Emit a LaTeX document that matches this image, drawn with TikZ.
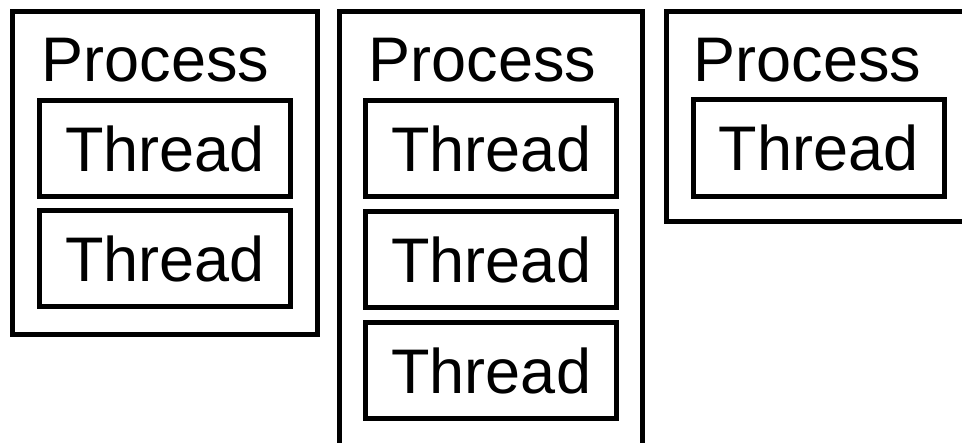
\documentclass[tikz,border=0pt]{standalone}
\usepackage{fontspec}
\setmainfont{Liberation Sans}
\begin{document}
\begin{tikzpicture}[x=1pt,y=-1pt,
  frame/.style={line width=5pt,draw=black},
  thread/.style={frame,minimum width=251pt,minimum height=96.5pt,inner sep=0pt,
    font=\fontsize{63}{70}\selectfont},
  plabel/.style={anchor=base west,inner sep=0pt,font=\fontsize{63}{70}\selectfont}]
\useasboundingbox (0,0) rectangle (962,443);
\clip (0,0) rectangle (962,443);
% process containers (the second and third run past the picture edge)
\draw[frame] (12.5,11.5) rectangle (317.5,334.5);
\draw[frame] (339.5,11.5) rectangle (642.5,460);
\draw[frame] (666.5,11.5) rectangle (980,221.5);
% process labels
\node[plabel] (p1) at (41.5,81.5) {Process};
\node[plabel] (p2) at (368.5,81.5) {Process};
\node[plabel] (p3) at (693.5,81.5) {Process};
% threads
\node[thread] (t11) at (165,148.75) {Thread};
\node[thread] (t12) at (165,258.75) {Thread};
\node[thread] (t21) at (491.25,148.75) {Thread};
\node[thread] (t22) at (491.25,259.75) {Thread};
\node[thread] (t23) at (491.25,370.75) {Thread};
\node[thread] (t31) at (818.5,148.25) {Thread};
\end{tikzpicture}
\end{document}
